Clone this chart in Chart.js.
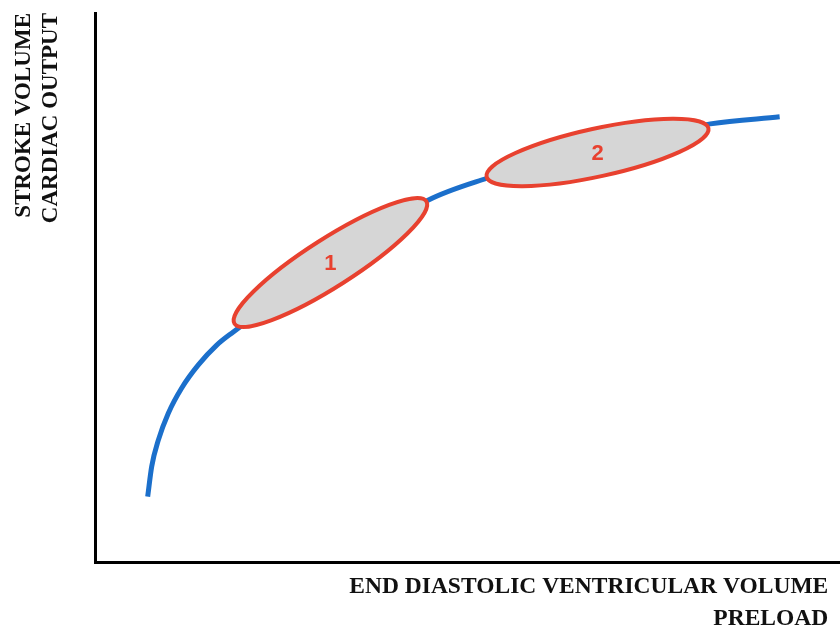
<!DOCTYPE html>
<html>
<head>
<meta charset="utf-8">
<script src="https://cdn.jsdelivr.net/npm/chart.js@4.4.1/dist/chart.umd.min.js"></script>
<style>
  body { margin: 0; background: #fff; }
  #wrap { width: 840px; height: 631px; position: relative; }
</style>
</head>
<body>
<div id="wrap"><canvas id="frankStarling"></canvas></div>
<script>
// Courbe de Frank-Starling (axe 0-100)
const preload = [7.07, 7.61, 8.5, 9.84, 11.64, 13.87, 16.34, 18.56, 24.8, 31.5, 38.3, 44.7, 52.6, 59.7, 67.5, 75.2, 82.6, 91.9];
const strokeVolume = [11.9, 17.4, 22.2, 27.1, 31.7, 35.9, 39.5, 41.9, 48.1, 54.3, 60.3, 65.9, 69.9, 72.7, 75.4, 77.8, 79.8, 81.1];

// Zones 1 et 2 : extrémités des ellipses [x, y]
const zoneLabels = ['1', '2'];
const zoneStart = [[18.5, 43.2], [52.3, 70.1]];
const zoneEnd = [[44.7, 65.9], [82.6, 79.1]];

const yTitle = ['STROKE VOLUME', 'CARDIAC OUTPUT'];
const xTitle = ['END DIASTOLIC VENTRICULAR VOLUME\u00a0\u00a0', 'PRELOAD\u00a0\u00a0'];

const zonesPlugin = {
  id: 'zones',
  afterDatasetsDraw(chart) {
    const ctx = chart.ctx;
    const xs = chart.scales.x, ys = chart.scales.y;
    zoneLabels.forEach((lbl, i) => {
      const x1 = xs.getPixelForValue(zoneStart[i][0]), y1 = ys.getPixelForValue(zoneStart[i][1]);
      const x2 = xs.getPixelForValue(zoneEnd[i][0]), y2 = ys.getPixelForValue(zoneEnd[i][1]);
      const cx = (x1 + x2) / 2, cy = (y1 + y2) / 2;
      const rx = Math.hypot(x2 - x1, y2 - y1) / 2 - 2;
      const ang = Math.atan2(y2 - y1, x2 - x1);
      ctx.save();
      ctx.beginPath();
      ctx.ellipse(cx, cy, rx, 24, ang, 0, Math.PI * 2);
      ctx.fillStyle = '#d6d6d6';
      ctx.fill();
      ctx.lineWidth = 4;
      ctx.strokeStyle = '#e8412f';
      ctx.stroke();
      ctx.fillStyle = '#e8412f';
      ctx.font = 'bold 22px "Liberation Sans", Arial, sans-serif';
      ctx.textAlign = 'center';
      ctx.textBaseline = 'middle';
      ctx.fillText(lbl, cx, cy + 1);
      ctx.restore();
    });
  }
};

new Chart(document.getElementById('frankStarling'), {
  type: 'line',
  data: {
    datasets: [{
      data: preload.map((x, i) => ({ x: x, y: strokeVolume[i] })),
      borderColor: '#1b6fcb',
      borderWidth: 5,
      pointRadius: 0,
      cubicInterpolationMode: 'monotone',
      fill: false
    }]
  },
  options: {
    responsive: true,
    maintainAspectRatio: false,
    animation: false,
    layout: { padding: { top: 13, left: 0, right: 0, bottom: 0 } },
    plugins: { legend: { display: false }, tooltip: { enabled: false } },
    scales: {
      x: {
        type: 'linear',
        min: 0,
        max: 100,
        ticks: { display: false },
        grid: { display: false },
        border: { display: true, color: '#000', width: 3 },
        title: {
          display: true,
          text: xTitle,
          align: 'end',
          color: '#111',
          font: { family: '"Liberation Serif", "Times New Roman", serif', size: 23.5, weight: 'bold', lineHeight: 1.36 },
          padding: { top: 0, bottom: -4 }
        },
        afterFit: (scale) => { scale.height = 69; }
      },
      y: {
        type: 'linear',
        min: 0,
        max: 100,
        ticks: { display: false },
        grid: { display: false },
        border: { display: true, color: '#000', width: 3 },
        title: {
          display: true,
          text: yTitle,
          align: 'end',
          color: '#111',
          font: { family: '"Liberation Serif", "Times New Roman", serif', size: 23, weight: 'bold', lineHeight: 1.17 },
          padding: { top: 11, bottom: 0 }
        },
        afterFit: (scale) => { scale.width = 95; }
      }
    }
  },
  plugins: [zonesPlugin]
});
</script>
</body>
</html>
